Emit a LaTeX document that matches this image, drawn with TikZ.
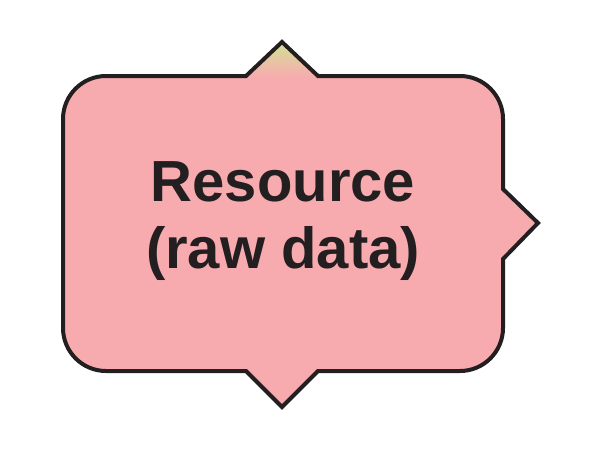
\documentclass[tikz,border=0pt]{standalone}
\usepackage{fontspec}
\setmainfont{Liberation Sans}
\definecolor{boxpink}{HTML}{F7ABAF}
\definecolor{tipgreen}{HTML}{D3E195}
\definecolor{ink}{HTML}{231F20}
\tikzset{
  outline/.style={draw=ink, line width=4pt, line join=miter},
  label/.style={text=ink, font=\fontsize{58}{67}\selectfont\bfseries, align=center}
}
\begin{document}
\begin{tikzpicture}[x=1pt,y=-1pt]
\useasboundingbox (0,0) rectangle (600,450);
\def\shapepath{(106,76) -- (246,76) -- (282,42) -- (318,76) -- (460,76)
  .. controls (483.7,76) and (503,95.3) .. (503,119)
  -- (503,189) -- (538,223) -- (503,259) -- (503,328)
  .. controls (503,351.7) and (483.7,371) .. (460,371)
  -- (318,371) -- (282,407) -- (246,371) -- (106,371)
  .. controls (82.3,371) and (63,351.7) .. (63,328)
  -- (63,119) .. controls (63,95.3) and (82.3,76) .. (106,76) -- cycle}
\fill[boxpink] \shapepath;
\shade[top color=tipgreen, bottom color=boxpink] (246,77) -- (282,42) -- (318,77) -- cycle;
\draw[outline] \shapepath;
\node[label] (res) at (283,221) {Resource\\(raw data)};
\end{tikzpicture}
\end{document}
